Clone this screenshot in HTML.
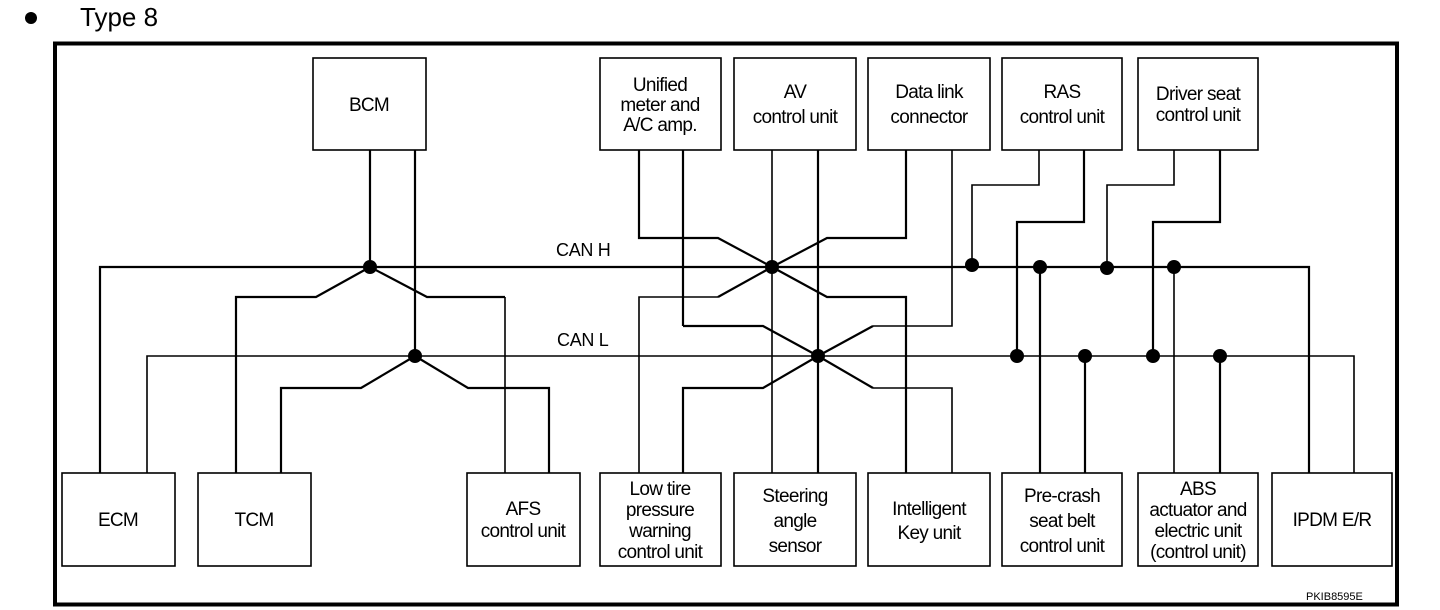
<!DOCTYPE html>
<html><head><meta charset="utf-8"><style>
html,body{margin:0;padding:0;background:#fff;}
svg{display:block;}
text{font-family:"Liberation Sans",sans-serif;fill:#000;}
.t{font-size:19px;letter-spacing:-0.7px;text-anchor:middle;}
</style></head><body>
<svg width="1440" height="610" viewBox="0 0 1440 610" xmlns="http://www.w3.org/2000/svg">
<circle cx="31" cy="18" r="6" fill="#000"/>
<text x="80" y="26" font-size="26">Type 8</text>
<rect x="55" y="43.5" width="1342" height="561" fill="none" stroke="#000" stroke-width="4"/>
<g fill="none" stroke="#000" stroke-width="1.6">
<rect x="313" y="58" width="113" height="92"/>
<rect x="600" y="58" width="121" height="92"/>
<rect x="734" y="58" width="122" height="92"/>
<rect x="868" y="58" width="122" height="92"/>
<rect x="1002" y="58" width="120" height="92"/>
<rect x="1138" y="58" width="120" height="92"/>
<rect x="62" y="473" width="113" height="93"/>
<rect x="198" y="473" width="113" height="93"/>
<rect x="467" y="473" width="113" height="93"/>
<rect x="600" y="473" width="121" height="93"/>
<rect x="734" y="473" width="122" height="93"/>
<rect x="868" y="473" width="122" height="93"/>
<rect x="1002" y="473" width="120" height="93"/>
<rect x="1138" y="473" width="120" height="93"/>
<rect x="1272" y="473" width="120" height="93"/>
</g>
<g fill="none" stroke="#000" stroke-width="2.2">
<polyline points="100,473 100,267 1309,267 1309,473"/>
<line x1="370" y1="150" x2="370" y2="267"/>
<line x1="415" y1="150" x2="415" y2="356"/>
<polyline points="236,473 236,297 316,297 370,267"/>
<polyline points="281,473 281,388 361,388 415,356"/>
<polyline points="549,473 549,388 468,388 415,356"/>
<line x1="683" y1="150" x2="683" y2="326"/>
<polyline points="683,326 763,326 818,356"/>
<polyline points="683,473 683,388 763,388 818,356"/>
<line x1="818" y1="150" x2="818" y2="473"/>
<polyline points="906,150 906,238 827,238 772,267"/>
<polyline points="906,473 906,297 827,297 772,267"/>
<polyline points="639,150 639,238 718,238 772,267"/>
<polyline points="718,297 772,267"/>
<polyline points="873,326 818,356"/>
<polyline points="873,388 818,356"/>
<polyline points="370,267 427,297 505,297"/>
<polyline points="1084,150 1084,222 1017,222 1017,356"/>
<polyline points="1220,150 1220,222 1153,222 1153,356"/>
<line x1="1040" y1="267" x2="1040" y2="473"/>
<line x1="1085" y1="356" x2="1085" y2="473"/>
<line x1="1220" y1="356" x2="1220" y2="473"/>
</g>
<g fill="none" stroke="#000" stroke-width="1.6">
<polyline points="147,473 147,356 1354,356 1354,473"/>
<line x1="505" y1="297" x2="505" y2="473"/>
<polyline points="639,473 639,297 718,297"/>
<line x1="772" y1="150" x2="772" y2="473"/>
<polyline points="952,150 952,326 873,326"/>
<polyline points="952,473 952,388 873,388"/>
<polyline points="1039,150 1039,185 972,185 972,267"/>
<polyline points="1174,150 1174,185 1107,185 1107,267"/>
<line x1="1174" y1="267" x2="1174" y2="473"/>
</g>
<g fill="#000">
<circle cx="370" cy="267" r="7"/>
<circle cx="415" cy="356" r="7"/>
<circle cx="772" cy="267" r="7"/>
<circle cx="818" cy="356" r="7"/>
<circle cx="972" cy="265" r="7"/>
<circle cx="1040" cy="267" r="7"/>
<circle cx="1107" cy="268" r="7"/>
<circle cx="1174" cy="267" r="7"/>
<circle cx="1017" cy="356" r="7"/>
<circle cx="1085" cy="356" r="7"/>
<circle cx="1153" cy="356" r="7"/>
<circle cx="1220" cy="356" r="7"/>
</g>
<text x="556" y="256" font-size="18" letter-spacing="-0.3">CAN H</text>
<text x="557" y="346" font-size="18" letter-spacing="-0.3">CAN L</text>
<g>
<text class="t" x="369" y="111">BCM</text>
<text class="t" x="660" y="91">Unified</text>
<text class="t" x="660" y="111">meter and</text>
<text class="t" x="660" y="131">A/C amp.</text>
<text class="t" x="795" y="98">AV</text>
<text class="t" x="795" y="123">control unit</text>
<text class="t" x="929" y="98">Data link</text>
<text class="t" x="929" y="123">connector</text>
<text class="t" x="1062" y="98">RAS</text>
<text class="t" x="1062" y="123">control unit</text>
<text class="t" x="1198" y="100">Driver seat</text>
<text class="t" x="1198" y="121">control unit</text>
<text class="t" x="118" y="526">ECM</text>
<text class="t" x="254" y="526">TCM</text>
<text class="t" x="523" y="515">AFS</text>
<text class="t" x="523" y="537">control unit</text>
<text class="t" x="660" y="495">Low tire</text>
<text class="t" x="660" y="516">pressure</text>
<text class="t" x="660" y="537">warning</text>
<text class="t" x="660" y="558">control unit</text>
<text class="t" x="795" y="502">Steering</text>
<text class="t" x="795" y="527">angle</text>
<text class="t" x="795" y="552">sensor</text>
<text class="t" x="929" y="515">Intelligent</text>
<text class="t" x="929" y="539">Key unit</text>
<text class="t" x="1062" y="502">Pre-crash</text>
<text class="t" x="1062" y="527">seat belt</text>
<text class="t" x="1062" y="552">control unit</text>
<text class="t" x="1198" y="495">ABS</text>
<text class="t" x="1198" y="516">actuator and</text>
<text class="t" x="1198" y="537">electric unit</text>
<text class="t" x="1198" y="558">(control unit)</text>
<text class="t" x="1332" y="526">IPDM E/R</text>
</g>
<text x="1306" y="600" font-size="11">PKIB8595E</text>
</svg>
</body></html>
